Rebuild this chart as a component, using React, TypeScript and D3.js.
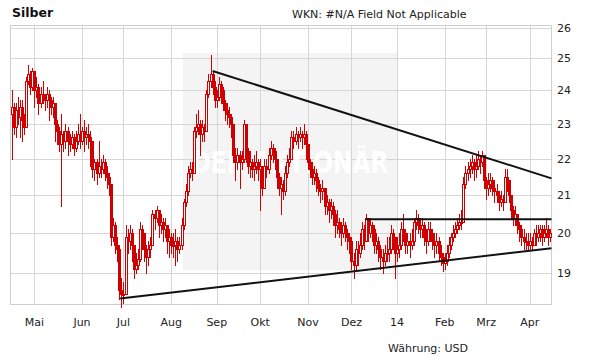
import { scaleLinear, scaleLog, timeDay } from 'd3'

const W = 611
const H = 364

// first trading day shown, bars are placed on weekdays only
const startDate = new Date(2013, 3, 16)

// daily closes, Apr 16 2013 .. Apr 15 2014
const closes = [
  23.5, 22.9, 23.4, 23.2, 23.5, 23.1, 22.9, 24.3, 24.5, 24.1,
  24.6, 24.0, 24.1, 23.6, 23.9, 23.8, 23.7, 23.9, 23.7, 23.5,
  23.6, 23.0, 22.8, 22.4, 22.7, 22.5, 22.8, 22.5, 22.4, 22.6,
  22.3, 22.5, 22.7, 22.5, 22.8, 22.6, 22.7, 22.6, 22.5, 21.7,
  21.9, 21.6, 21.8, 21.7, 21.9, 21.6, 21.5, 21.3, 19.9, 20.2,
  19.7, 19.6, 18.6, 18.5, 18.5, 19.9, 19.8, 20.0, 19.7, 19.1,
  19.2, 19.35, 20.1, 20.0, 19.6, 19.4, 19.6, 19.7, 20.5, 20.4,
  20.6, 20.2, 20.3, 20.1, 20.2, 19.8, 19.9, 19.7, 19.7, 19.8,
  19.6, 19.7, 20.2, 20.8, 21.1, 21.6, 21.7, 21.6, 22.8, 22.9,
  23.0, 22.7, 22.9, 22.8, 23.9, 24.3, 24.5, 24.1, 23.7, 23.8,
  24.2, 24.0, 23.6, 23.4, 23.3, 23.2, 23.0, 22.1, 21.9, 22.1,
  21.9, 22.0, 23.0, 22.2, 21.8, 21.9, 21.7, 21.8, 21.9, 21.7,
  21.8, 21.2, 21.8, 21.7, 22.1, 22.3, 22.2, 22.0, 21.5, 21.2,
  21.3, 21.1, 21.6, 21.9, 22.0, 22.6, 22.5, 22.7, 22.6, 22.7,
  22.6, 22.7, 22.4, 21.9, 21.7, 21.5, 21.6, 21.4, 21.2, 21.1,
  21.2, 20.7, 20.8, 20.6, 20.7, 20.5, 20.2, 20.3, 20.1, 20.0,
  20.2, 20.0, 19.9, 19.8, 19.3, 19.2, 19.6, 19.5, 19.7, 20.1,
  19.8, 20.4, 20.0, 20.2, 20.1, 19.7, 19.8, 19.6, 19.4, 19.3,
  19.5, 19.5, 19.6, 20.0, 19.9, 19.5, 19.6, 19.7, 20.1, 20.0,
  19.7, 19.8, 19.7, 19.8, 20.3, 20.4, 20.2, 20.1, 20.2, 19.9,
  19.8, 20.1, 20.0, 19.8, 19.7, 19.8, 19.5, 19.4, 19.25, 19.3,
  19.5, 19.7, 19.9, 20.0, 20.1, 20.2, 20.3, 20.3, 21.3, 21.6,
  21.7, 21.8, 21.9, 21.7, 21.8, 22.0, 21.9, 22.1, 21.4, 21.2,
  21.3, 21.4, 21.2, 21.1, 21.0, 20.8, 20.9, 20.8, 21.5, 21.4,
  21.0, 20.6, 20.4, 20.5, 20.2, 20.1, 19.9, 19.8, 19.8, 19.7,
  19.8, 19.7, 20.0, 19.9, 20.0, 20.1, 19.9, 20.0, 20.1, 19.9,
  20.0,
]

const highs = [
  24.0, 23.6, 23.6, 23.8, 23.7, 23.7, 23.3, 24.4, 24.8, 24.6,
  24.7, 24.6, 24.4, 24.2, 24.1, 24.3, 23.9, 24.1, 24.0, 23.8,
  23.8, 23.6, 23.1, 22.9, 23.3, 22.8, 23.0, 22.9, 22.7, 22.8,
  22.7, 22.8, 23.0, 23.3, 22.9, 23.1, 22.9, 23.0, 22.8, 22.5,
  22.0, 22.0, 22.5, 22.0, 22.1, 22.0, 21.8, 21.6, 21.3, 20.4,
  20.3, 19.9, 19.7, 18.9, 18.8, 20.2, 20.1, 20.2, 20.1, 19.7,
  19.5, 19.6, 20.3, 20.2, 20.0, 19.7, 19.8, 19.9, 20.6, 20.6,
  20.7, 20.6, 20.5, 20.4, 20.4, 20.2, 20.1, 20.0, 20.0, 20.1,
  19.9, 19.9, 20.4, 20.9, 21.3, 21.8, 21.9, 21.9, 22.9, 23.3,
  23.4, 23.1, 23.1, 23.0, 24.0, 24.5, 25.1, 24.6, 24.3, 24.0,
  24.4, 24.3, 24.1, 23.7, 23.6, 23.5, 23.3, 23.0, 22.3, 22.3,
  22.2, 22.2, 23.1, 23.0, 22.3, 22.2, 22.0, 22.1, 22.2, 22.0,
  22.0, 21.8, 22.0, 22.0, 22.3, 22.5, 22.4, 22.3, 22.0, 21.6,
  21.5, 21.4, 21.8, 22.1, 22.3, 22.8, 22.8, 22.9, 22.8, 22.9,
  22.8, 23.0, 22.8, 22.4, 22.0, 21.9, 21.8, 21.7, 21.5, 21.3,
  21.4, 21.2, 21.0, 20.9, 20.9, 20.8, 20.6, 20.6, 20.4, 20.3,
  20.4, 20.3, 20.1, 20.0, 19.9, 19.5, 19.8, 19.8, 20.0, 20.3,
  20.2, 20.5, 20.4, 20.4, 20.3, 20.2, 20.0, 19.9, 19.7, 19.6,
  19.7, 19.9, 19.9, 20.2, 20.1, 19.9, 19.9, 20.0, 20.3, 20.5,
  20.1, 20.0, 20.0, 20.1, 20.4, 20.6, 20.5, 20.4, 20.4, 20.3,
  20.1, 20.3, 20.3, 20.1, 20.0, 20.0, 19.9, 19.7, 19.5, 19.5,
  19.7, 19.9, 20.0, 20.2, 20.3, 20.4, 20.5, 20.6, 21.5, 21.8,
  21.9, 22.0, 22.1, 22.0, 22.1, 22.2, 22.1, 22.2, 22.0, 21.5,
  21.6, 21.6, 21.5, 21.4, 21.3, 21.1, 21.1, 21.0, 21.7, 21.7,
  21.4, 21.0, 20.7, 20.7, 20.5, 20.3, 20.2, 20.1, 20.0, 20.0,
  20.0, 19.9, 20.1, 20.2, 20.2, 20.2, 20.2, 20.2, 20.4, 20.2,
  20.1,
]

const lows = [
  22.0, 22.7, 22.6, 23.0, 22.6, 22.5, 22.7, 22.9, 24.2, 23.9,
  24.0, 23.5, 23.8, 23.3, 23.5, 23.6, 23.4, 23.5, 23.1, 23.3,
  23.2, 22.5, 22.4, 22.2, 20.7, 22.2, 22.3, 22.1, 22.2, 22.3,
  22.1, 22.2, 22.4, 22.3, 22.4, 22.2, 22.4, 22.3, 21.8, 21.5,
  21.4, 21.3, 21.5, 21.5, 21.6, 21.4, 21.2, 21.0, 19.7, 19.8,
  19.5, 19.3, 18.4, 18.2, 18.3, 18.5, 19.5, 19.6, 19.3, 18.9,
  19.0, 19.1, 19.3, 19.6, 19.3, 19.0, 19.2, 19.4, 19.7, 20.1,
  20.3, 19.9, 20.0, 19.8, 19.9, 19.5, 19.4, 19.5, 19.4, 19.2,
  19.3, 19.5, 19.6, 20.1, 20.7, 21.0, 21.5, 21.4, 21.6, 22.6,
  22.7, 22.1, 22.5, 22.5, 22.8, 23.8, 24.1, 23.9, 23.5, 23.5,
  23.7, 23.6, 23.4, 23.1, 23.0, 22.9, 22.6, 21.9, 21.4, 21.7,
  21.2, 21.7, 21.9, 21.9, 21.6, 21.5, 21.5, 21.4, 21.6, 21.4,
  20.6, 21.0, 21.2, 21.5, 21.6, 22.0, 21.9, 21.7, 21.2, 21.0,
  20.5, 20.9, 21.0, 21.5, 21.8, 22.0, 22.3, 22.4, 22.3, 22.5,
  22.3, 22.4, 22.0, 21.7, 21.5, 21.3, 21.3, 21.1, 21.0, 20.8,
  20.9, 20.5, 20.5, 20.3, 20.4, 20.2, 19.9, 20.0, 19.9, 19.7,
  19.9, 19.8, 19.6, 19.5, 19.1, 18.9, 19.1, 19.2, 19.4, 19.6,
  19.6, 19.8, 19.8, 19.9, 19.8, 19.5, 19.5, 19.3, 19.1, 19.0,
  19.2, 19.3, 19.3, 19.5, 19.6, 18.9, 19.3, 19.4, 19.6, 19.8,
  19.5, 19.5, 19.4, 19.6, 19.7, 20.1, 20.0, 19.9, 19.9, 19.7,
  19.5, 19.7, 19.8, 19.6, 19.4, 19.5, 19.3, 19.2, 19.05, 19.1,
  19.2, 19.4, 19.6, 19.8, 19.9, 20.0, 20.1, 20.1, 20.3, 21.2,
  21.4, 21.5, 21.6, 21.4, 21.5, 21.7, 21.6, 21.8, 21.2, 20.9,
  21.0, 21.1, 21.0, 20.8, 20.8, 20.6, 20.7, 20.6, 20.8, 21.1,
  20.8, 20.4, 20.2, 20.2, 20.0, 19.8, 19.7, 19.6, 19.6, 19.6,
  19.6, 19.6, 19.7, 19.7, 19.8, 19.8, 19.7, 19.8, 19.9, 19.7,
  19.8,
]

// trend lines: [bar index, price] pairs
const resistanceLine = [[97, 24.6], [260.5, 21.45]]
const supportLine = [[52.4, 18.4], [260.5, 19.62]]
const rangeLine = [[170.7, 20.36], [260.5, 20.36]]

const yTicks = [19, 20, 21, 22, 23, 24, 25, 26]
const monthLabels = ['Mai', 'Jun', 'Jul', 'Aug', 'Sep', 'Okt', 'Nov', 'Dez', '14', 'Feb', 'Mrz', 'Apr']

const left = 10.5
const right = 551.5
const top = 25.5
const bottom = 304.5
const font = 'DejaVu Sans, Verdana, sans-serif'
const red = '#d00000'

// list of weekdays starting at startDate
function weekdays(n: number) {
  const out: Date[] = []
  let d = startDate
  while (out.length < n) {
    const wd = d.getDay()
    if (wd !== 0 && wd !== 6) out.push(d)
    d = timeDay.offset(d, 1)
  }
  return out
}

const App = () => {
  const dates = weekdays(closes.length)
  const x = scaleLinear().domain([-0.5, closes.length - 0.5]).range([left, right])
  const y = scaleLog().domain([18.26, 26.07]).range([bottom, top])

  // first trading day of each month after the start month
  const monthIdx: number[] = []
  dates.forEach((d, i) => {
    if (i > 0 && d.getMonth() !== dates[i - 1].getMonth()) monthIdx.push(i)
  })

  const px = (v: number) => Math.round(v) + 0.5

  // candles: open taken as the previous close (24h market)
  const candles = closes.map((c, i) => {
    const o = i === 0 ? 23.3 : closes[i - 1]
    const xi = px(x(i))
    const yTop = Math.round(y(Math.max(o, c)))
    const yBot = Math.round(y(Math.min(o, c)))
    return {
      xi,
      yHigh: Math.round(y(highs[i])),
      yLow: Math.round(y(lows[i])) + 1,
      yTop: yTop + 0.5,
      h: Math.max(yBot - yTop, 1),
      up: c >= o,
    }
  })

  const trend = (pts: number[][]) =>
    `M${x(pts[0][0])},${y(pts[0][1])}L${x(pts[1][0])},${y(pts[1][1])}`

  return (
    <svg width={W} height={H} style={{ position: 'absolute', left: 0, top: 0, background: '#fff' }}>
      {/* watermark box */}
      <rect x={183} y={53} width={214} height={217} fill="#f4f4f4" />

      <g stroke="#d6d6d6" strokeWidth={1} shapeRendering="crispEdges">
        {yTicks.map((t) => (
          <line key={t} x1={left} x2={right} y1={px(y(t))} y2={px(y(t))} />
        ))}
        {monthIdx.map((i) => (
          <line key={i} x1={px(x(i))} x2={px(x(i))} y1={top} y2={bottom} />
        ))}
        <rect x={left} y={top} width={right - left} height={bottom - top} fill="none" stroke="#cfcfcf" />
      </g>

      <text
        x={290}
        y={173}
        fontFamily={font}
        fontWeight="bold"
        fontSize={30}
        fill="#fff"
        textAnchor="middle"
        textLength={197}
        lengthAdjust="spacingAndGlyphs"
      >
        DER AKTIONÄR
      </text>

      <g stroke={red} strokeWidth={1} shapeRendering="crispEdges">
        {candles.map((k, i) => (
          <g key={i}>
            <line x1={k.xi} x2={k.xi} y1={k.yHigh} y2={k.yLow} />
            <rect x={k.xi - 1} y={k.yTop} width={2} height={k.h} fill={k.up ? '#fff' : red} />
          </g>
        ))}
      </g>

      <g stroke="#111" strokeWidth={2} fill="none">
        <path d={trend(resistanceLine)} />
        <path d={trend(supportLine)} />
        <path d={trend(rangeLine)} />
      </g>

      {yTicks.map((t) => (
        <text key={t} x={557} y={y(t) + 4} fontFamily={font} fontSize={11} fill="#222">
          {t}
        </text>
      ))}

      {monthIdx.map((i, k) => (
        <text key={i} x={x(i)} y={326} fontFamily={font} fontSize={11} fill="#222" textAnchor="middle">
          {monthLabels[k]}
        </text>
      ))}

      <text x={12} y={17} fontFamily={font} fontWeight="bold" fontSize={12.5} fill="#111">
        Silber
      </text>
      <text x={292} y={18} fontFamily={font} fontSize={11} fill="#222">
        WKN: #N/A Field Not Applicable
      </text>
      <text x={388} y={352} fontFamily={font} fontSize={11} fill="#222">
        Währung: USD
      </text>
    </svg>
  )
}

export default App
